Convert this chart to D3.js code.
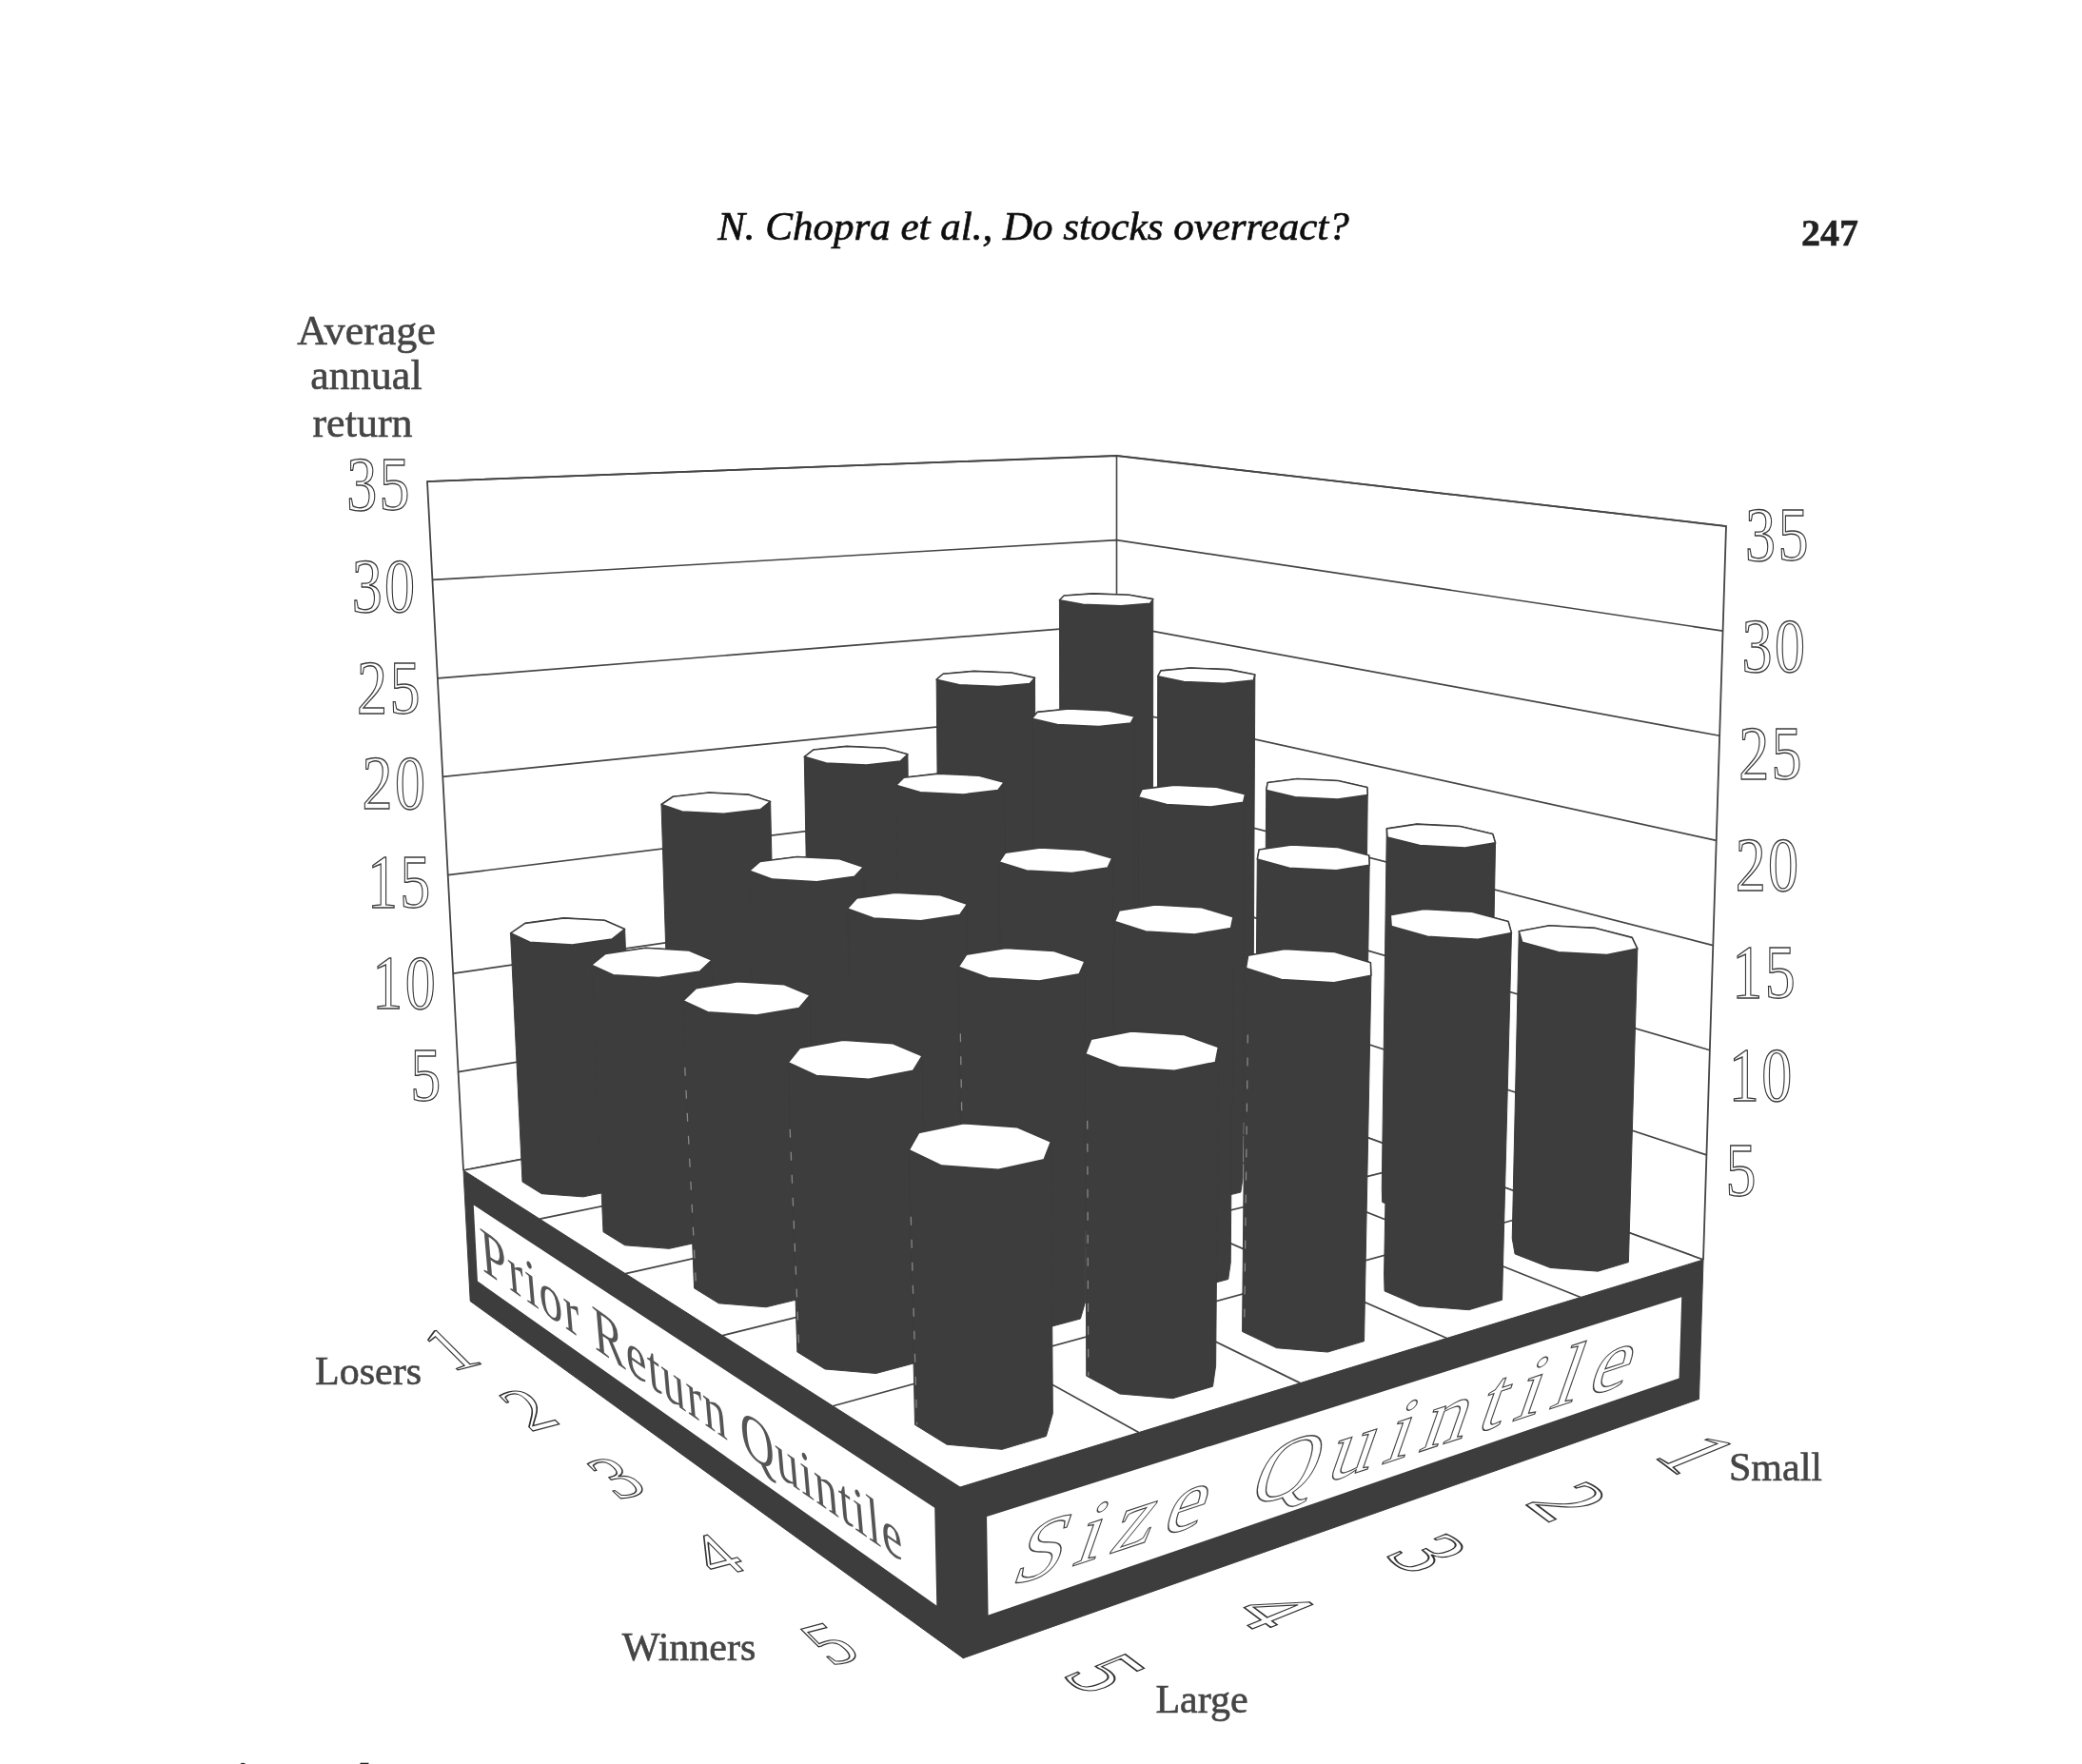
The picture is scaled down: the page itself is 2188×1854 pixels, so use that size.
<!DOCTYPE html>
<html><head><meta charset="utf-8">
<script src="https://cdn.jsdelivr.net/npm/d3@7/dist/d3.min.js"></script>
<style>html,body{margin:0;padding:0;background:#fff}svg{display:block}</style></head>
<body><svg id="c" width="2188" height="1854"></svg>
<script>
// ---- data ----
const priorQuintiles = [1, 2, 3, 4, 5];
const sizeQuintiles = [1, 2, 3, 4, 5];
const returnTicks = [5, 10, 15, 20, 25, 30, 35];
const returnsSize1 = [27.2, 24.0, 19.2, 18.3, 14.9];
const returnsSize2 = [23.3, 22.4, 19.7, 18.2, 16.8];
const returnsSize3 = [19.8, 19.7, 17.4, 16.3, 16.1];
const returnsSize4 = [18.1, 16.3, 16.2, 15.4, 13.7];
const returnsSize5 = [12.5, 12.8, 13.1, 12.5, 11.2];
const returnsBySize = [returnsSize1, returnsSize2, returnsSize3, returnsSize4, returnsSize5];

// ---- layout ----
const leftLabelNudge  = {5:0, 10:7, 15:4, 20:4, 25:7, 30:4, 35:0};
const rightLabelNudge = {5:10, 10:20, 15:22, 20:20, 25:13, 30:10, 35:3};

// ---- projection ----
const floorQuad = {B:[1173.5,1099.6], R:[1790,1324], L:[487,1230], F:[1009,1563]};
const topQuad   = {B:[1173.5,479],    R:[1814,553],  L:[449,506],  F:[992,617]};
function homography(q){
  const a1=q.R[0]-q.F[0], b1=q.L[0]-q.F[0], c1=q.B[0]-q.F[0];
  const a2=q.R[1]-q.F[1], b2=q.L[1]-q.F[1], c2=q.B[1]-q.F[1];
  const det=a1*b2-a2*b1, a=(c1*b2-c2*b1)/det, b=(a1*c2-a2*c1)/det;
  return (s,t)=>{
    const w=1+s*(a-1)+t*(b-1);
    return [0,1].map(i=>(q.B[i]+s*(a*q.R[i]-q.B[i])+t*(b*q.L[i]-q.B[i]))/w);
  };
}
const hFloor=homography(floorQuad), hTop=homography(topQuad);
const project=(s,t,z)=>{const f=hFloor(s,t),p=hTop(s,t);return [f[0]+(p[0]-f[0])*z,f[1]+(p[1]-f[1])*z];};
const zScale=d3.scaleLinear().domain([0,35]).range([0,1]);
const sScale=d3.scaleBand().domain(priorQuintiles).range([0,1]);
const tScale=d3.scaleBand().domain(sizeQuintiles).range([0,1]);
const sC=p=>sScale(p)+sScale.bandwidth()/2, tC=q=>tScale(q)+tScale.bandwidth()/2;
const baseZ=-0.19;
const ink='#3c3c3c', line='#444';
const svg=d3.select('#c');
svg.append('defs').append('filter').attr('id','soft').attr('x',0).attr('y',0).attr('width',1).attr('height',1)
  .append('feGaussianBlur').attr('stdDeviation',0.7);
const g=svg.append('g').attr('filter','url(#soft)');
g.append('rect').attr('width',2188).attr('height',1854).attr('fill','#fff');
const poly=(pts,fill,stroke,sw)=>g.append('polygon').attr('points',pts.map(p=>p.join(',')).join(' '))
  .attr('fill',fill).attr('stroke',stroke||'none').attr('stroke-width',sw||0).attr('stroke-linejoin','round');
const path=(pts,w,c)=>g.append('path').attr('d',d3.line()(pts)).attr('fill','none').attr('stroke',c||line).attr('stroke-width',w||1.6);
const serif='"Liberation Serif",serif';
const txt=(x,y,s,size,o={})=>g.append('text').attr('x',x).attr('y',y).text(s)
  .attr('font-family',serif).attr('font-size',size).attr('text-anchor',o.anchor||'middle')
  .attr('font-style',o.style||'normal').attr('font-weight',o.weight||'normal').attr('fill',o.fill||'#333')
  .attr('stroke',o.fill||'#333').attr('stroke-width',o.sw||0.5);

// header
txt(1086,252,'N. Chopra et al., Do stocks overreact?',43,{style:'italic',fill:'#111',sw:0.7});
txt(1923,258,'247',40,{weight:'bold',fill:'#222',sw:0});
txt(222,1884,'Fig. 3. The',44,{anchor:'start',weight:'bold',fill:'#222',sw:0});

// axis title
['Average','annual','return'].forEach((w,i)=>txt([385,385,381][i],[362,409,459][i],w,44,{fill:'#444',sw:0.6}));

// walls
path([project(0,1,0),project(0,1,1),project(0,0,1),project(1,0,1),project(1,0,0)],1.8);
path([project(0,0,0),project(0,0,1)],1.6);
path([project(0,1,0),project(0,0,0),project(1,0,0)],1.6);
returnTicks.forEach(v=>{const z=zScale(v);path([project(0,1,z),project(0,0,z),project(1,0,z)],1.7);});

// value labels
const valueText=(x,y,s,anchor)=>g.append('text').attr('transform',`translate(${x},${y}) scale(0.8,1)`)
  .attr('text-anchor',anchor).text(s).attr('font-family',serif).attr('font-size',80).attr('letter-spacing',3)
  .attr('fill','#fff').attr('stroke','#3a3a3a').attr('stroke-width',1.4);
returnTicks.forEach(v=>{
  const z=zScale(v), l=project(0,1,z), r=project(1,0,z);
  valueText(l[0]-16,l[1]+30+leftLabelNudge[v],String(v),'end');
  valueText(r[0]+20,r[1]+33+rightLabelNudge[v],String(v),'start');
});

// floor
poly([project(0,0,0),project(1,0,0),project(1,1,0),project(0,1,0)],'#fff');
[0.2,0.4,0.6,0.8].forEach(k=>{path([project(k,0,0),project(k,1,0)],1.7);path([project(0,k,0),project(1,k,0)],1.7);});
path([project(0,1,0),project(0,0,0),project(1,0,0)],1.7);

// base
poly([project(0,1,0),project(1,1,0),project(1,1,baseZ),project(0,1,baseZ)],ink,ink,1);
poly([project(1,1,0),project(1,0,0),project(1,0,baseZ),project(1,1,baseZ)],ink,ink,1);
const zp1=-0.042, zp2=-0.152;
poly([project(0.024,1,zp1),project(0.961,1,zp1),project(0.961,1,zp2),project(0.024,1,zp2)],'#fff');
poly([project(1,0.972,zp1),project(1,0.035,zp1),project(1,0.035,zp2),project(1,0.972,zp2)],'#fff');

// columns, back to front
const radius=0.065;
const octAngles=d3.range(8).map(i=>(i+0.5)*Math.PI/4);
const cells=[];
sizeQuintiles.forEach((q,qi)=>priorQuintiles.forEach((p,pi)=>cells.push({p,q,v:returnsBySize[qi][pi]})));
cells.sort((a,b)=>(a.p+a.q)-(b.p+b.q)||a.p-b.p);
cells.forEach(c=>{
  const ring=z=>octAngles.map(a=>project(sC(c.p)+radius*Math.cos(a),tC(c.q)+radius*Math.sin(a),z));
  const zTop=zScale(c.v), top=ring(zTop), bot=ring(0);
  poly(d3.polygonHull(top.concat(bot)),ink,ink,1);
  poly(top,'#fff',ink,1.6);
  if(c.p+c.q>=8){
    const i=d3.leastIndex(top,(a,b)=>a[0]-b[0]);
    path([[top[i][0]+2,top[i][1]+70],[bot[i][0]+2,bot[i][1]]],1.3,'#888').attr('stroke-dasharray','9 15');
  }
});

// panel text
const matText=(m,s,size,o)=>{const t=g.append('text').attr('transform',`matrix(${m.join(',')})`).text(s)
  .attr('font-family',serif).attr('font-size',size).attr('fill',o.fill).attr('stroke',o.stroke||'none').attr('stroke-width',o.sw||0);
  if(o.len)t.attr('textLength',o.len).attr('lengthAdjust','spacing');if(o.anchor)t.attr('text-anchor',o.anchor);return t;};
matText([0.82,0.57,0.1,1.15,507,1335],'Prior Return Quintile',60,{fill:'#555',len:540});
matText([1.2,-0.395,-0.42,1.2,1060,1668],'Size Quintile',80,{fill:'#fff',stroke:'#444',sw:1.1,len:540});

// category digits
const digitDrop=0.09;
priorQuintiles.forEach(p=>{const c=project(sC(p),1+digitDrop,baseZ);
  matText([1.15,-0.3,0.95,0.95,c[0]+34,c[1]+24],String(p),60,{fill:'#fff',stroke:'#333',sw:1.1,anchor:'middle'});});
sizeQuintiles.forEach(q=>{const c=project(1+digitDrop,tC(q),baseZ);
  matText([1.0,0.75,-1.6,0.65,c[0]-44,c[1]+17],String(q),60,{fill:'#fff',stroke:'#333',sw:1.1,anchor:'middle'});});

// end labels
txt(387,1455,'Losers',42,{fill:'#444',sw:0.6});
txt(724,1745,'Winners',42,{fill:'#444',sw:0.6});
txt(1866,1556,'Small',42,{fill:'#444',sw:0.6});
txt(1263,1800,'Large',42,{fill:'#444',sw:0.6});
</script></body></html>
